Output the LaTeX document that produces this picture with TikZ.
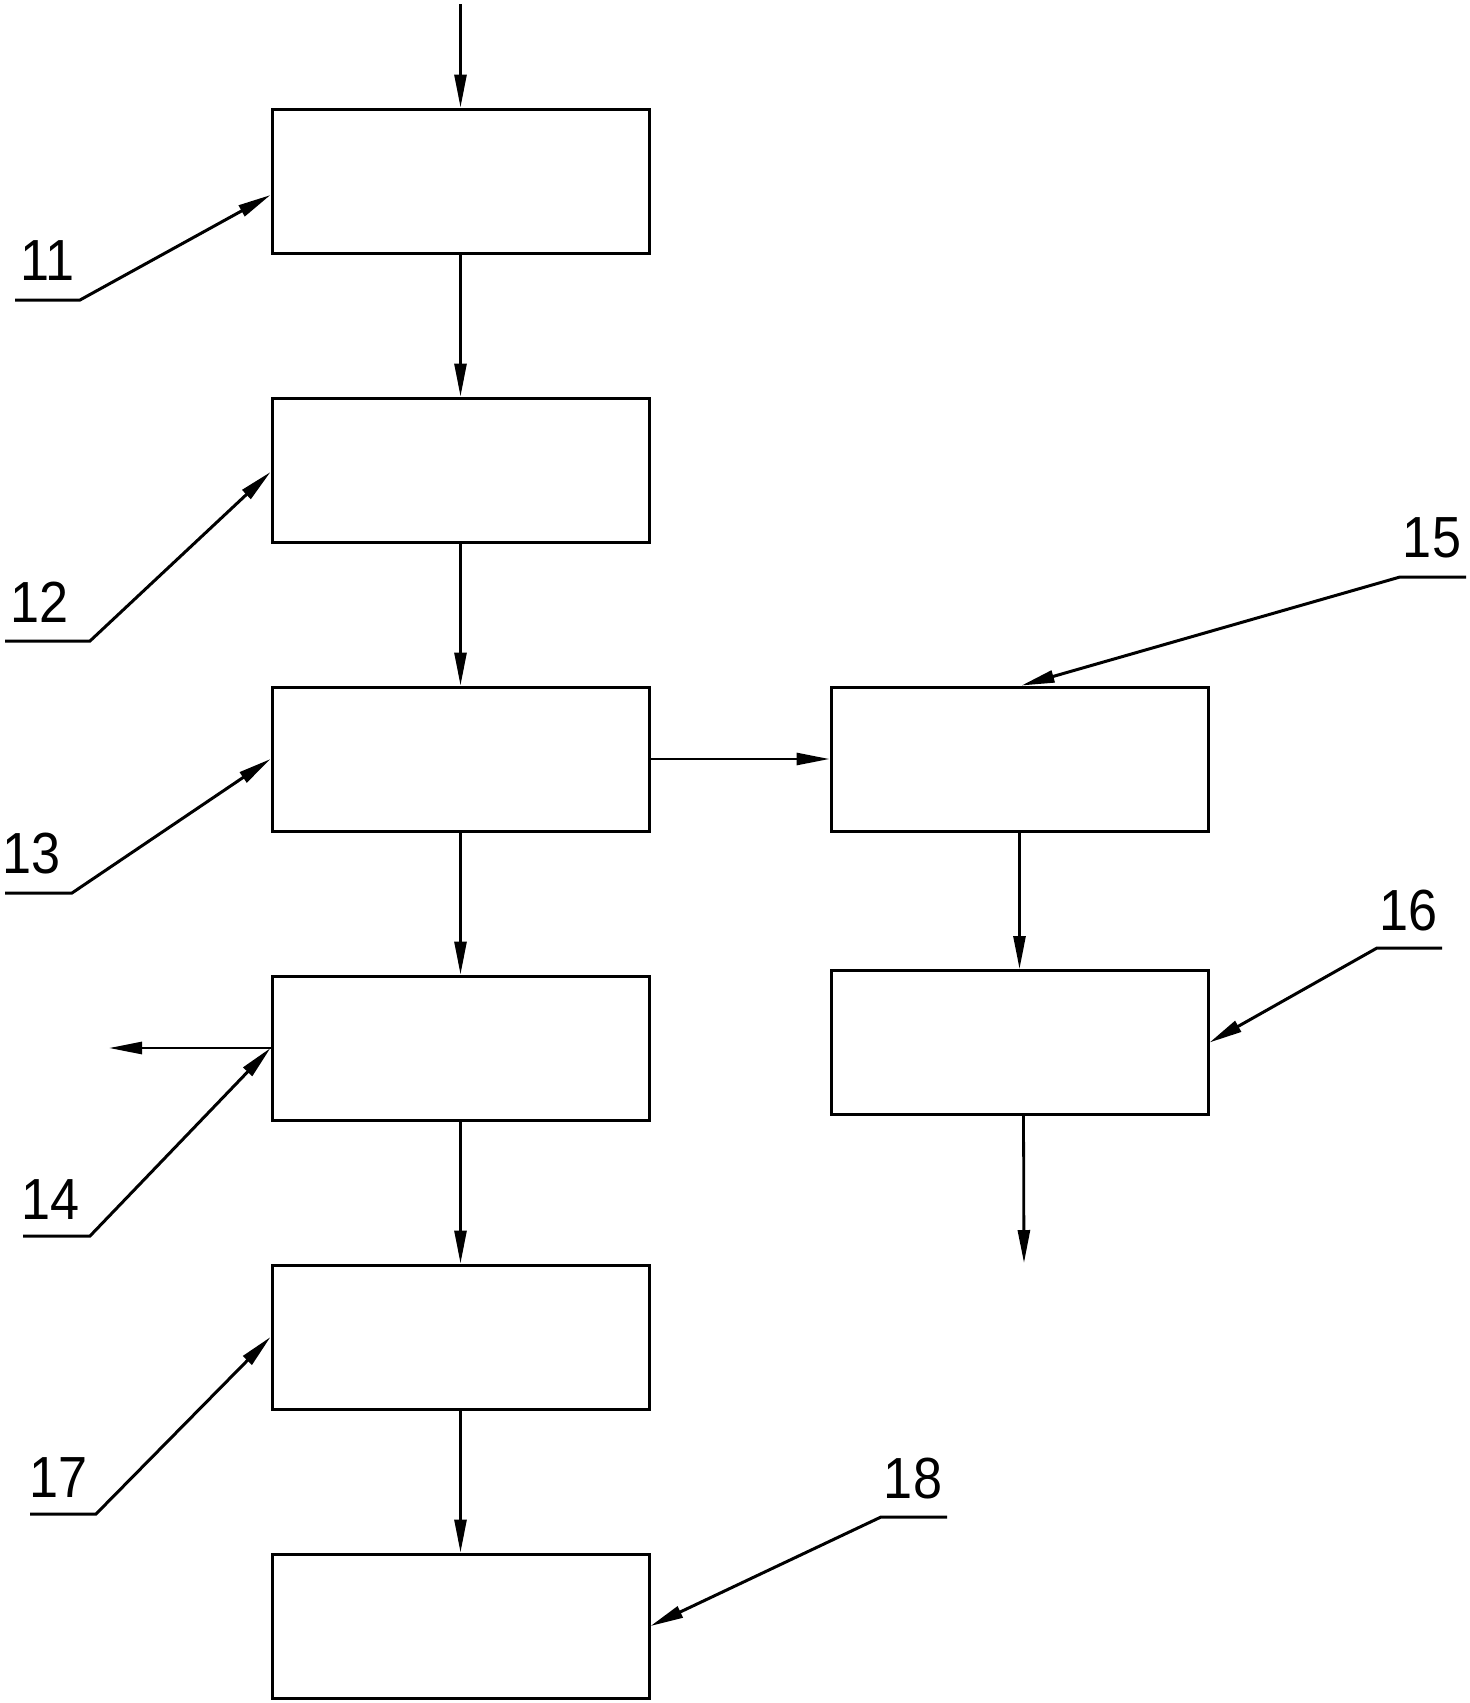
\documentclass[tikz,border=0pt]{standalone}
\usepackage{fontspec}
\setmainfont{Liberation Sans}
\usetikzlibrary{arrows.meta,calc}
\begin{document}
\begin{tikzpicture}[x=0.5pt,y=-0.5pt,
  box/.style={draw,line width=1.5pt,minimum width=188.5pt,minimum height=72pt,inner sep=0pt},
  flow/.style={line width=1.4pt,-{Triangle[length=16.5pt,width=6pt]}},
  leader/.style={line width=1.5pt,line join=miter,-{Triangle[length=16.5pt,width=6pt]}},
  lbl/.style={inner sep=0pt,font=\fontsize{29}{30}\selectfont}]
\useasboundingbox (0,0) rectangle (1469,1703);
% boxes, left column
\node[box] (b1) at (460.5,181) {};
\node[box] (b2) at (460.5,470) {};
\node[box] (b3) at (460.5,759) {};
\node[box] (b4) at (460.5,1048) {};
\node[box] (b5) at (460.5,1337) {};
\node[box] (b6) at (460.5,1626) {};
% boxes, right column
\node[box] (b7) at (1019.5,759) {};
\node[box] (b8) at (1019.5,1042.5) {};
% free ends
\coordinate (in) at (460.5,4);
\coordinate (out14) at (109,1048);
\coordinate (out16) at (1024,1263);
% flow connectors
\draw[flow] (in) -- (b1.north);
\draw[flow] (b1.south) -- (b2.north);
\draw[flow] (b2.south) -- (b3.north);
\draw[flow] (b3.south) -- (b4.north);
\draw[flow] (b4.south) -- (b5.north);
\draw[flow] (b5.south) -- (b6.north);
\draw[flow] (b3.east) -- (b7.west);
\draw[flow] (b7.south) -- (b8.north);
\draw[flow] ($(b8.south)+(4,0)$) -- (out16);
\draw[flow] (b4.west) -- (out14);
% labels
\node[lbl] (n11) at (47.5,260.5) {\scalebox{0.9}[1]{11}};
\node[lbl] (n12) at (40,602.5) {\scalebox{0.9}[1]{12}};
\node[lbl] (n13) at (32,854) {\scalebox{0.9}[1]{13}};
\node[lbl] (n14) at (51,1200) {\scalebox{0.9}[1]{14}};
\node[lbl] (n15) at (1432,538) {\scalebox{0.9}[1]{15}};
\node[lbl] (n16) at (1408.5,911) {\scalebox{0.9}[1]{16}};
\node[lbl] (n17) at (59,1478) {\scalebox{0.9}[1]{17}};
\node[lbl] (n18) at (913,1478.5) {\scalebox{0.9}[1]{18}};
% leader line corners
\coordinate (a11) at (15,300);  \coordinate (c11) at (80,300);
\coordinate (a12) at (5,641);   \coordinate (c12) at (90,641);
\coordinate (a13) at (5,893);   \coordinate (c13) at (72,893);
\coordinate (a14) at (23,1236); \coordinate (c14) at (90,1236);
\coordinate (a17) at (30,1514); \coordinate (c17) at (96,1514);
\coordinate (a15) at (1466,577); \coordinate (c15) at (1400,577);
\coordinate (a16) at (1442,948); \coordinate (c16) at (1377,948);
\coordinate (a18) at (947,1517); \coordinate (c18) at (881,1517);
% leaders
\draw[leader] (a11) -- (c11) -- ($(b1.west)+(0,14)$);
\draw[leader] (a12) -- (c12) -- ($(b2.west)+(0,2)$);
\draw[leader] (a13) -- (c13) -- (b3.west);
\draw[leader] (a14) -- (c14) -- (b4.west);
\draw[leader] (a17) -- (c17) -- (b5.west);
\draw[leader] (a15) -- (c15) -- ($(b7.north)+(2,0)$);
\draw[leader] (a16) -- (c16) -- (b8.east);
\draw[leader] (a18) -- (c18) -- (b6.east);
\end{tikzpicture}
\end{document}
